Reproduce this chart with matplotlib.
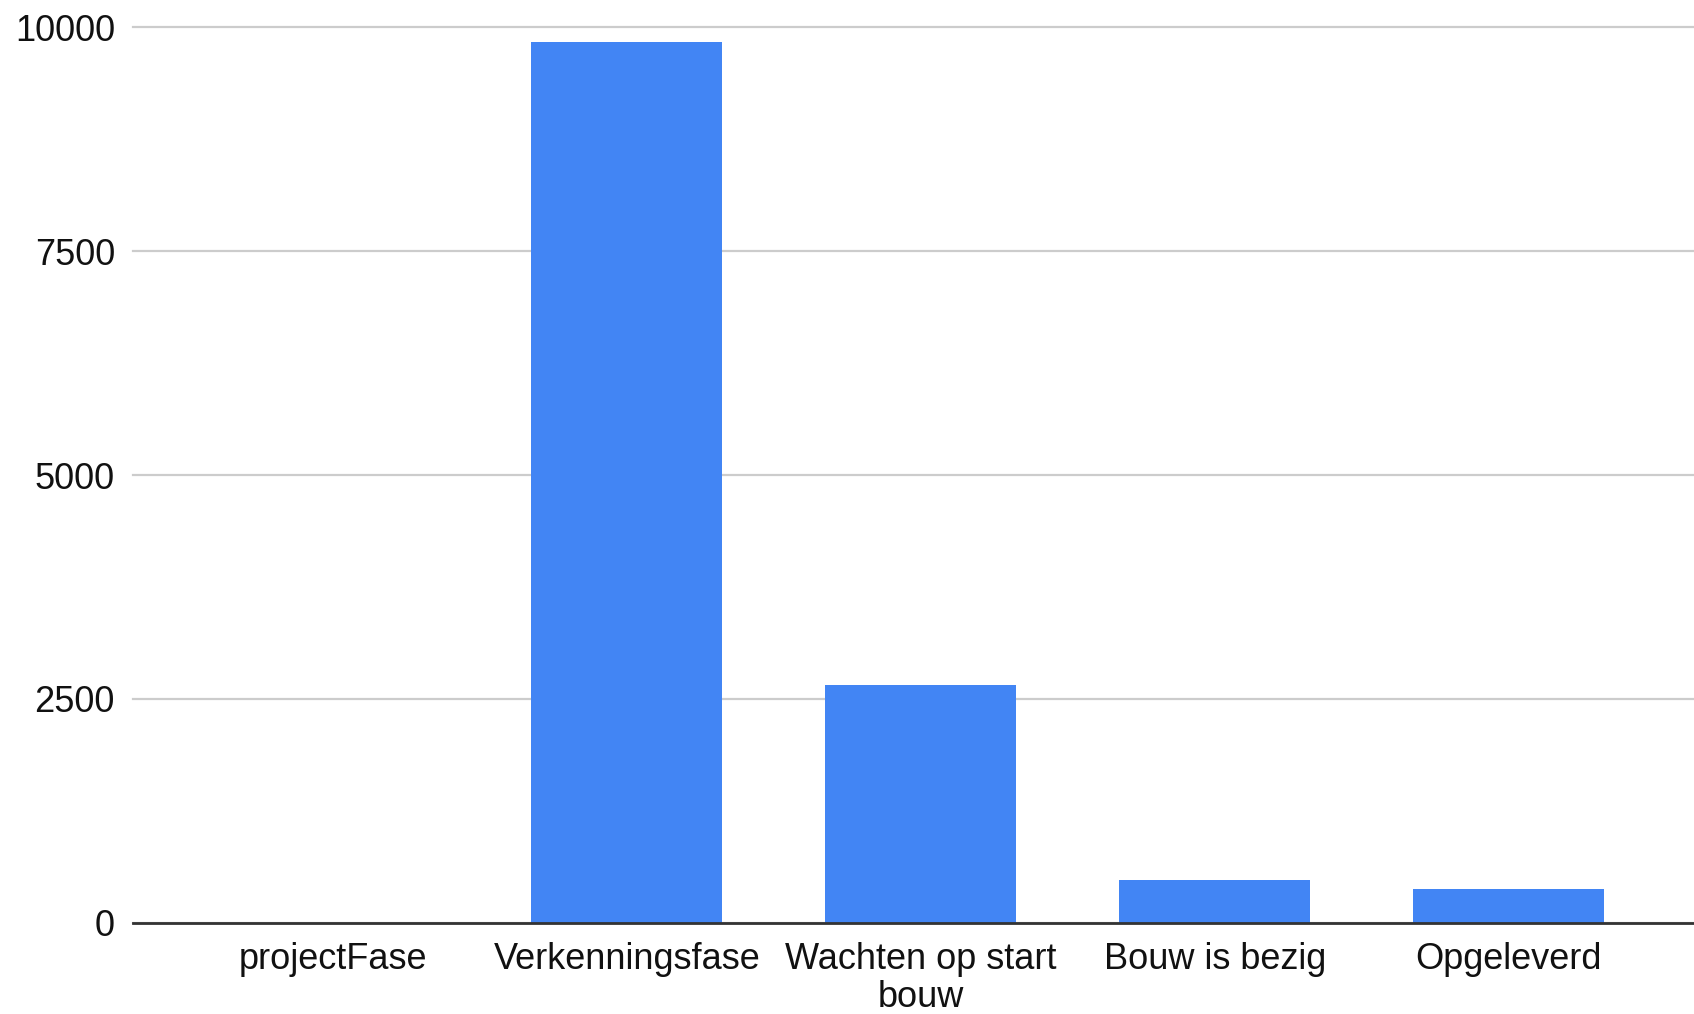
import matplotlib.pyplot as plt
import numpy as np

categories = ["projectFase", "Verkenningsfase", "Wachten op start\nbouw", "Bouw is bezig", "Opgeleverd"]
counts = [0, 9840, 2660, 475, 375]
y_ticks = [0, 2500, 5000, 7500, 10000]

plt.rcParams['font.family'] = ['Liberation Sans', 'DejaVu Sans']

fig = plt.figure(figsize=(16.94, 10.14), dpi=100)
ax = fig.add_axes([0.0785, 0.09, 0.9215, 0.883])

x = np.arange(len(categories))
ax.bar(x, counts, width=0.65, color="#4285F4", zorder=3)

ax.set_xlim(-0.68, 4.63)
ax.set_ylim(0, 10000)
ax.set_yticks(y_ticks)
ax.set_yticklabels([str(t) for t in y_ticks])
ax.set_xticks(x)
ax.set_xticklabels(categories, linespacing=1.1)

ax.yaxis.grid(True, color="#cccccc", linewidth=1.6, zorder=0)
for s in ["top", "right", "left"]:
    ax.spines[s].set_visible(False)
ax.spines["bottom"].set_color("#333333")
ax.spines["bottom"].set_linewidth(2)
ax.spines["bottom"].set_zorder(4)
for line in ax.get_ygridlines():
    line.set_clip_on(False)

ax.tick_params(axis="y", length=0, pad=13, labelsize=26, colors="#111111")
ax.tick_params(axis="x", length=0, pad=14, labelsize=26, colors="#111111")

fig.savefig("out.png", dpi=100, facecolor="white")
